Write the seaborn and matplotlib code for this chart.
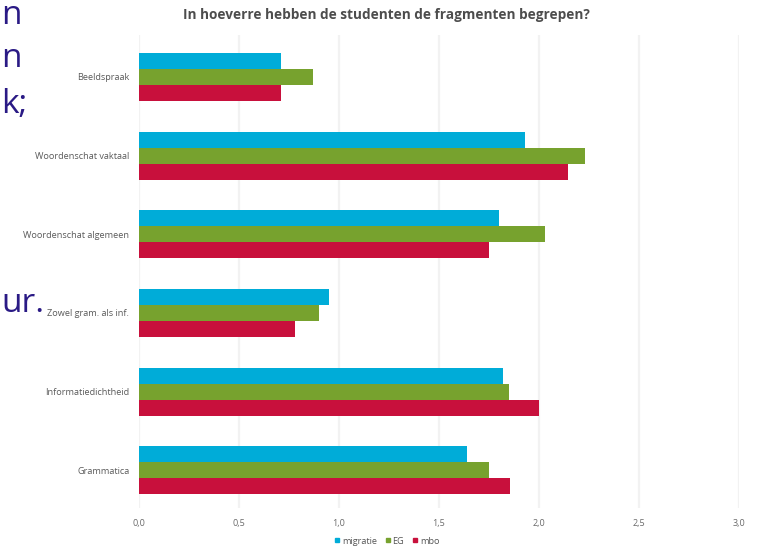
import matplotlib
matplotlib.use("Agg")
import matplotlib.pyplot as plt
import seaborn as sns
import pandas as pd
from matplotlib.ticker import FuncFormatter

# Categories (top to bottom) and the mean scores per student group
categories = ["Beeldspraak", "Woordenschat vaktaal", "Woordenschat algemeen",
              "Zowel gram. als inf.", "Informatiedichtheid", "Grammatica"]
migratie = [0.71, 1.93, 1.80, 0.95, 1.82, 1.64]
eg = [0.87, 2.23, 2.03, 0.90, 1.85, 1.75]
mbo = [0.71, 2.145, 1.75, 0.78, 2.00, 1.855]
series = ["migratie", "EG", "mbo"]
x_ticks = [0.0, 0.5, 1.0, 1.5, 2.0, 2.5, 3.0]
title = "In hoeverre hebben de studenten de fragmenten begrepen?"
side_words = ["n", "n", "k;", "ur."]

colors = {"migratie": "#00acd8", "EG": "#77a22e", "mbo": "#c8103c"}

df = pd.DataFrame({
    "categorie": categories * 3,
    "score": migratie + eg + mbo,
    "groep": [s for s in series for _ in categories],
})

sns.set_theme(style="white")
plt.rcParams["font.family"] = ["Open Sans", "DejaVu Sans"]

W, H = 757, 548
fig = plt.figure(figsize=(W / 100, H / 100), dpi=100)
ax = fig.add_axes([139 / W, 1 - 508 / H, 600 / W, 473 / H])

sns.barplot(data=df, y="categorie", x="score", hue="groep", orient="h",
            palette=colors, hue_order=series, order=categories,
            width=0.61, saturation=1, linewidth=0, ax=ax, legend=False)

ax.set_xlim(0, 3.0)
ax.set_ylim(5.48, -0.534)
ax.set_xticks(x_ticks)
ax.xaxis.set_major_formatter(FuncFormatter(lambda v, p: f"{v:.1f}".replace(".", ",")))
ax.grid(axis="x", color="#f2f2f2", linewidth=1.6)
ax.set_axisbelow(True)
for s in ax.spines.values():
    s.set_visible(False)
ax.tick_params(axis="x", length=0, labelsize=6.5, labelcolor="#6a6a6a", pad=8)
ax.tick_params(axis="y", length=0, labelsize=6.6, labelcolor="#5a5a5a", pad=7)
ax.set_xlabel("")
ax.set_ylabel("")

fig.text(386 / W, 1 - 15 / H, title, ha="center", va="center",
         fontsize=9.8, fontweight="bold", color="#4d4d4d")

# legend with small square markers
handles = [plt.Line2D([], [], marker="s", linestyle="", markersize=3.2,
                      color=colors[s]) for s in series]
fig.legend(handles, series, loc="center", bbox_to_anchor=(387 / W, 1 - 541 / H),
           ncol=3, frameon=False, fontsize=6.6, labelcolor="#555555",
           handlelength=0.6, handletextpad=0.2, columnspacing=0.9,
           borderpad=0)

# fragments of slide text on the left edge
for word, yb in zip(side_words, [24, 67, 113, 312]):
    fig.text(1 / W, 1 - yb / H, word, ha="left", va="baseline",
             fontsize=24, color="#2a1a85")

fig.savefig("out.png", dpi=100)
